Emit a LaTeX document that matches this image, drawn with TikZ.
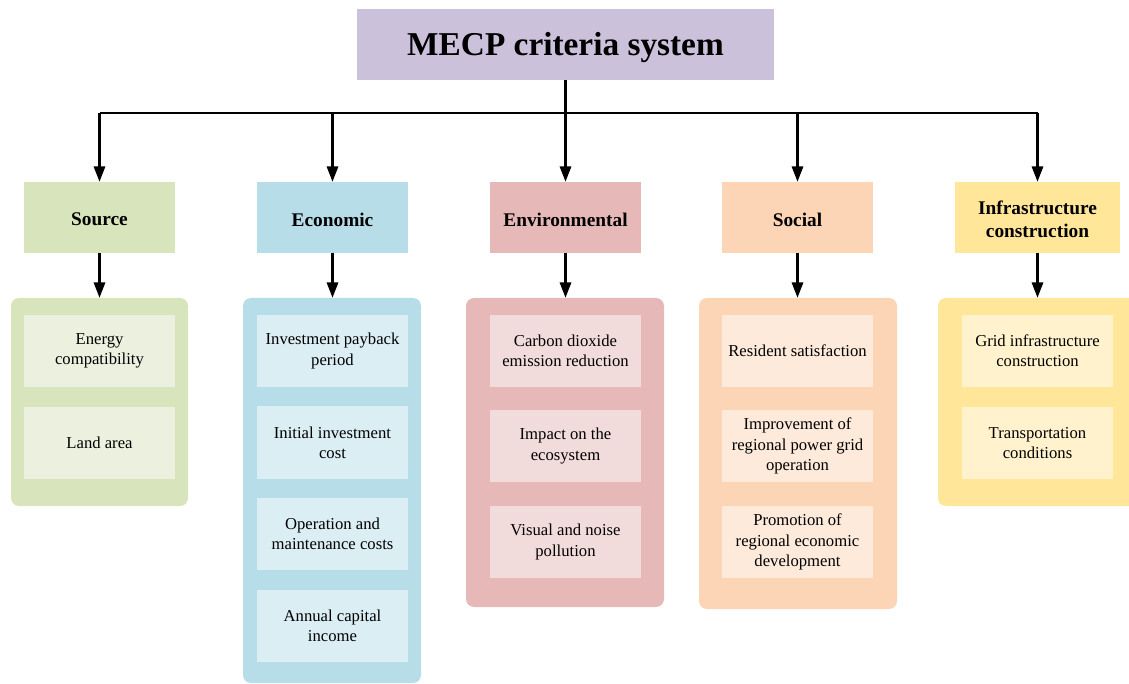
\documentclass[tikz,border=0pt]{standalone}
\usepackage{fontspec}
\setmainfont{Liberation Serif}
\usetikzlibrary{arrows.meta}
\definecolor{ctitle}{RGB}{204,193,218}
\definecolor{csrc}{RGB}{216,228,188}
\definecolor{csrcL}{RGB}{235,241,222}
\definecolor{ceco}{RGB}{183,221,232}
\definecolor{cecoL}{RGB}{219,238,243}
\definecolor{cenv}{RGB}{230,185,184}
\definecolor{cenvL}{RGB}{242,220,219}
\definecolor{csoc}{RGB}{251,213,181}
\definecolor{csocL}{RGB}{253,234,218}
\definecolor{cinf}{RGB}{255,230,153}
\definecolor{cinfL}{RGB}{255,242,204}
\tikzset{
  titlebox/.style={fill=ctitle, minimum width=312.75pt, minimum height=53.25pt, inner sep=0pt},
  titletext/.style={inner sep=0pt, font=\fontsize{25}{30}\selectfont\bfseries},
  catbox/.style={minimum width=113.25pt, minimum height=53.25pt, inner sep=0pt},
  cattext/.style={inner sep=0pt, align=center, font=\fontsize{14.5}{17}\selectfont\bfseries},
  grpbox/.style={rounded corners=6pt, inner sep=0pt},
  itembox/.style={minimum width=113.25pt, minimum height=54pt, inner sep=0pt, align=center,
    font=\fontsize{12.5}{15.2}\selectfont},
  conn/.style={line width=1.6pt},
  arr/.style={line width=1.6pt, -{Triangle[length=11.5pt,width=8.5pt]}},
}
\newcommand\catnode[5]{%
  \node[catbox, fill=#2, #4] (#1) at (#3) {};
  \node[cattext] (#1t) at ([yshift=-1.6pt]#1.center) {#5};}
\begin{document}
\begin{tikzpicture}[x=0.75pt,y=-0.75pt]
\useasboundingbox (0,0) rectangle (1129,684);
\clip (0,0) rectangle (1129,684);
% groups
\node[grpbox, fill=csrc, minimum width=132.75pt, minimum height=156pt] (G1) at (99.5,402) {};
\node[grpbox, fill=ceco, minimum width=133.5pt, minimum height=288.75pt] (G2) at (332,490.5) {};
\node[grpbox, fill=cenv, minimum width=148.5pt, minimum height=231.75pt] (G3) at (565,452.5) {};
\node[grpbox, fill=csoc, minimum width=148.5pt, minimum height=233.25pt] (G4) at (798,453.5) {};
\node[grpbox, fill=cinf, minimum width=149.25pt, minimum height=156pt] (G5) at (1037.5,402) {};
% title
\node[titlebox] (T) at (565.5,44.5) {};
\node[titletext] (Tt) at ([yshift=-2.4pt]T.center) {MECP criteria system};
% categories
\catnode{C1}{csrc}{99.5,217.5}{}{Source}
\catnode{C2}{ceco}{332.5,217.5}{}{Economic}
\catnode{C3}{cenv}{565.5,217.5}{}{Environmental}
\catnode{C4}{csoc}{797.5,217.5}{}{Social}
\catnode{C5}{cinf}{1037.5,217.5}{minimum width=123.75pt}{Infrastructure\\construction}
% items
\node[itembox, fill=csrcL] (S1) at (99.5,351) {Energy\\compatibility};
\node[itembox, fill=csrcL] (S2) at (99.5,443) {Land area};
\node[itembox, fill=cecoL] (E1) at (332.5,351) {Investment payback\\period};
\node[itembox, fill=cecoL] (E2) at (332.5,442.5) {Initial investment\\cost};
\node[itembox, fill=cecoL] (E3) at (332.5,534) {Operation and\\maintenance costs};
\node[itembox, fill=cecoL] (E4) at (332.5,626) {Annual capital\\income};
\node[itembox, fill=cenvL] (N1) at (565.5,351) {Carbon dioxide\\emission reduction};
\node[itembox, fill=cenvL] (N2) at (565.5,446) {Impact on the\\ecosystem};
\node[itembox, fill=cenvL] (N3) at (565.5,542) {Visual and noise\\pollution};
\node[itembox, fill=csocL] (O1) at (797.5,351) {Resident satisfaction};
\node[itembox, fill=csocL] (O2) at (797.5,446) {Improvement of\\regional power grid\\operation};
\node[itembox, fill=csocL] (O3) at (797.5,542) {Promotion of\\regional economic\\development};
\node[itembox, fill=cinfL] (I1) at (1037.5,351) {Grid infrastructure\\construction};
\node[itembox, fill=cinfL] (I2) at (1037.5,443) {Transportation\\conditions};
% connectors
\coordinate (b1) at (99.5,113);
\coordinate (b2) at (332.5,113);
\coordinate (b4) at (797.5,113);
\coordinate (b5) at (1037.5,113);
\draw[conn] (b1) -- (b5);
\draw[arr] (T.south) -- (C3.north);
\draw[arr] (b1) -- (C1.north);
\draw[arr] (b2) -- (C2.north);
\draw[arr] (b4) -- (C4.north);
\draw[arr] (b5) -- (C5.north);
\draw[arr] (C1.south) -- (C1.south |- G1.north);
\draw[arr] (C2.south) -- (C2.south |- G2.north);
\draw[arr] (C3.south) -- (C3.south |- G3.north);
\draw[arr] (C4.south) -- (C4.south |- G4.north);
\draw[arr] (C5.south) -- (C5.south |- G5.north);
\end{tikzpicture}
\end{document}
